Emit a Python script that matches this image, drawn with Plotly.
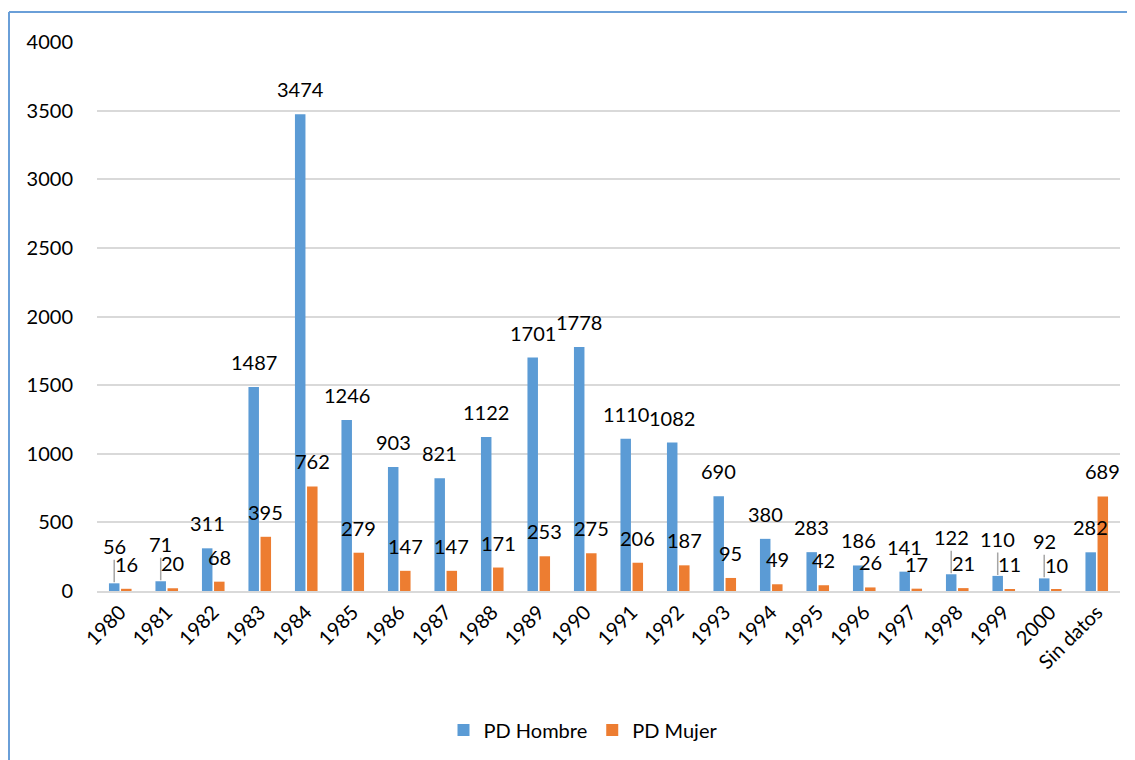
import plotly.graph_objects as go

categories = ["1980", "1981", "1982", "1983", "1984", "1985", "1986", "1987", "1988",
              "1989", "1990", "1991", "1992", "1993", "1994", "1995", "1996", "1997",
              "1998", "1999", "2000", "Sin datos"]
hombre = [56, 71, 311, 1487, 3474, 1246, 903, 821, 1122, 1701, 1778, 1110, 1082,
          690, 380, 283, 186, 141, 122, 110, 92, 282]
mujer = [16, 20, 68, 395, 762, 279, 147, 147, 171, 253, 275, 206, 187, 95, 49,
         42, 26, 17, 21, 11, 10, 689]
y_ticks = [0, 500, 1000, 1500, 2000, 2500, 3000, 3500, 4000]

BLUE = "#5B9BD5"
ORANGE = "#ED7D31"
FONT = "Lato"

# page body has an 8px margin, so figure coords = screen coords - 8
W, H = 1127, 752
ML, MR, MT, MB = 89, 15, 34, 169
BARGAP, GROUPGAP = 0.48, 0.13

fig = go.Figure()
fig.add_trace(go.Bar(name="PD Hombre", x=categories, y=hombre,
                     marker=dict(color=BLUE, line=dict(width=0))))
fig.add_trace(go.Bar(name="PD Mujer", x=categories, y=mujer,
                     marker=dict(color=ORANGE, line=dict(width=0))))

# pixel geometry for data labels
cat_px = (W - ML - MR) / len(categories)
slot = (1 - BARGAP) * cat_px / 2
offsets = [-slot / 2, slot / 2]
leader = {"1980", "1981", "1998", "1999", "2000"}

annotations = []
for si, series in enumerate([hombre, mujer]):
    for i, (c, v) in enumerate(zip(categories, series)):
        base = dict(x=i, y=v, xref="x", yref="y", text=str(v),
                    font=dict(family=FONT, size=20, color="#000000"),
                    xshift=offsets[si])
        if si == 0 and c in leader:
            base.update(showarrow=True, arrowhead=0, arrowwidth=1.5,
                        arrowcolor="#A6A6A6", ax=0, ay=-37, standoff=1)
        else:
            base.update(showarrow=False, yshift=25, yanchor="middle")
        annotations.append(base)

# chart frame (left & top)
pw = W - ML - MR
ph = H - MT - MB
x_frame = (1 - ML) / pw
y_top = 1 + (MT - 4) / ph
y_bot = -(MB + 5) / ph
shapes = [
    dict(type="line", xref="paper", yref="paper", x0=x_frame, x1=x_frame,
         y0=y_bot, y1=y_top, line=dict(color="#6A9FD8", width=2)),
    dict(type="line", xref="paper", yref="paper", x0=x_frame, x1=1.05,
         y0=y_top, y1=y_top, line=dict(color="#6A9FD8", width=2)),
]

fig.update_layout(
    width=W, height=H,
    margin=dict(l=ML, r=MR, t=MT, b=MB, autoexpand=False),
    paper_bgcolor="white", plot_bgcolor="white",
    barmode="group", bargap=BARGAP, bargroupgap=GROUPGAP,
    font=dict(family=FONT, size=20, color="#000000"),
    showlegend=True,
    legend=dict(orientation="h", x=(575 - ML) / pw, xanchor="center",
                y=-(722 - 583) / ph, yanchor="middle",
                font=dict(family=FONT, size=20, color="#000000"),
                itemwidth=30, traceorder="normal"),
    annotations=annotations,
    shapes=shapes,
)
fig.update_xaxes(type="category", range=[-0.5, len(categories) - 0.5],
                 tickangle=-45, showgrid=False,
                 showline=True, linecolor="#D9D9D9", linewidth=1.5,
                 ticks="", tickfont=dict(family=FONT, size=20))
fig.update_yaxes(range=[0, 4000], tickvals=y_ticks, showgrid=True,
                 gridcolor="#D9D9D9", gridwidth=1.5, zeroline=False,
                 showline=False, ticks="", ticklabelstandoff=23,
                 tickfont=dict(family=FONT, size=20))

fig.write_html("out.html")
